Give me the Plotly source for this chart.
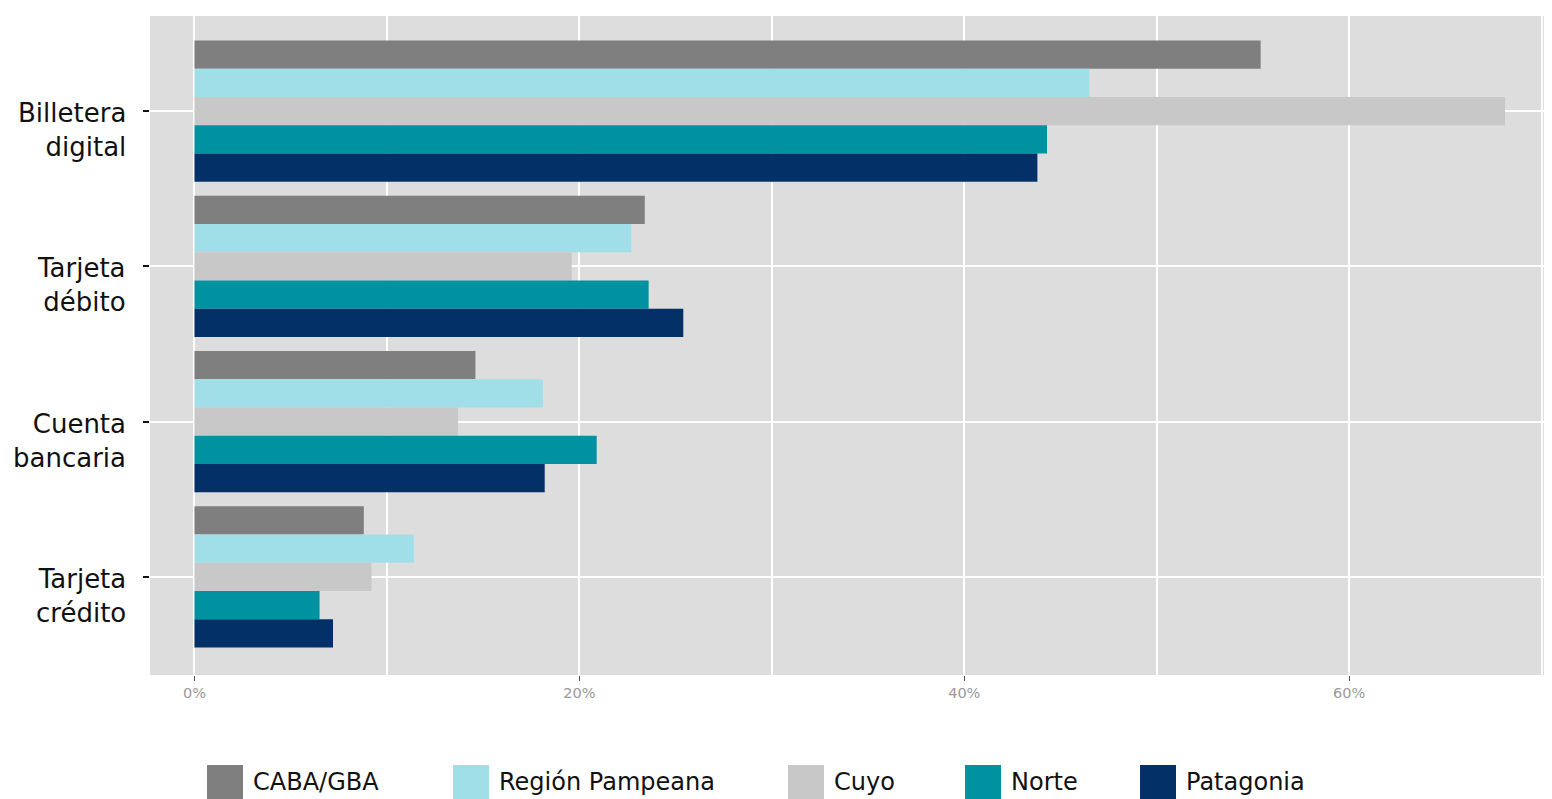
import plotly.graph_objects as go

categories = ["Billetera<br>digital", "Tarjeta<br>débito", "Cuenta<br>bancaria", "Tarjeta<br>crédito"]
series_names = ["CABA/GBA", "Región Pampeana", "Cuyo", "Norte", "Patagonia"]
caba = [55.4, 23.4, 14.6, 8.8]
pampeana = [46.5, 22.7, 18.1, 11.4]
cuyo = [68.1, 19.6, 13.7, 9.2]
norte = [44.3, 23.6, 20.9, 6.5]
patagonia = [43.8, 25.4, 18.2, 7.2]
series_values = [caba, pampeana, cuyo, norte, patagonia]
colors = ["#7F7F7F", "#A0DFE8", "#C8C8C8", "#0092A1", "#043068"]
x_tick_vals = [0, 20, 40, 60]
x_tick_text = ["0%", "20%", "40%", "60%"]

W, H = 1544, 791
OFF = 8  # page body margin offset
L, R, T, B = 142, 0, 8, 124
plot_w = W - L - R
plot_h = H - T - B
panel_left_px = L + OFF
panel_bottom_px = H - B + OFF

fig = go.Figure()
for name, vals, col in zip(series_names, series_values, colors):
    fig.add_trace(go.Bar(
        y=categories, x=vals, name=name, orientation="h",
        marker=dict(color=col, line=dict(width=0)),
        showlegend=False, hoverinfo="x+name",
    ))

shapes = []
annotations = []

# y category labels (first line aligned near the tick, as in the reference)
for cat in categories:
    annotations.append(dict(xref="paper", yref="y", x=0, y=cat, xshift=-22, yshift=-19,
                            text=cat, showarrow=False, xanchor="right", yanchor="middle",
                            align="right",
                            font=dict(size=26, color="#111111", family="DejaVu Sans")))

# manual legend with large swatches (positions in screenshot pixels)
legend_px = [207, 453, 788, 965, 1140]
leg_center_px = 782
yanchor = (panel_bottom_px - leg_center_px) / plot_h
for name, col, px in zip(series_names, colors, legend_px):
    xa = (px - panel_left_px) / plot_w
    shapes.append(dict(type="rect", xref="paper", yref="paper",
                       xsizemode="pixel", ysizemode="pixel",
                       xanchor=xa, yanchor=yanchor,
                       x0=0, x1=36, y0=-17, y1=17,
                       fillcolor=col, line=dict(width=0), layer="above"))
    annotations.append(dict(xref="paper", yref="paper", x=xa, y=yanchor,
                            xshift=44, text=name, showarrow=False,
                            xanchor="left", yanchor="middle",
                            font=dict(size=24, color="#111111", family="DejaVu Sans")))

fig.update_layout(
    width=W, height=H,
    margin=dict(l=L, r=R, t=T, b=B, pad=0),
    paper_bgcolor="white", plot_bgcolor="#DDDDDD",
    barmode="group", bargap=0.09, bargroupgap=0,
    font=dict(family="DejaVu Sans", color="#111111"),
    shapes=shapes, annotations=annotations,
    xaxis=dict(range=[-2.31, 70.54], tickvals=x_tick_vals, ticktext=x_tick_text,
               showgrid=True, gridcolor="white", gridwidth=2.2,
               minor=dict(dtick=10, tick0=0, showgrid=True, gridcolor="white", gridwidth=2.2),
               zeroline=False, ticks="outside", ticklen=5, tickcolor="#555555", tickwidth=1,
               tickfont=dict(size=14.5, color="#999999", family="DejaVu Sans"),
               ticklabelstandoff=0, showline=False, fixedrange=True),
    yaxis=dict(categoryorder="array", categoryarray=categories, range=[3.632, -0.613],
               showgrid=True, gridcolor="white", gridwidth=2.2, zeroline=False,
               ticks="outside", ticklen=6, tickcolor="#111111", tickwidth=2,
               showticklabels=False, showline=False, fixedrange=True),
)

fig.write_html("out.html")
